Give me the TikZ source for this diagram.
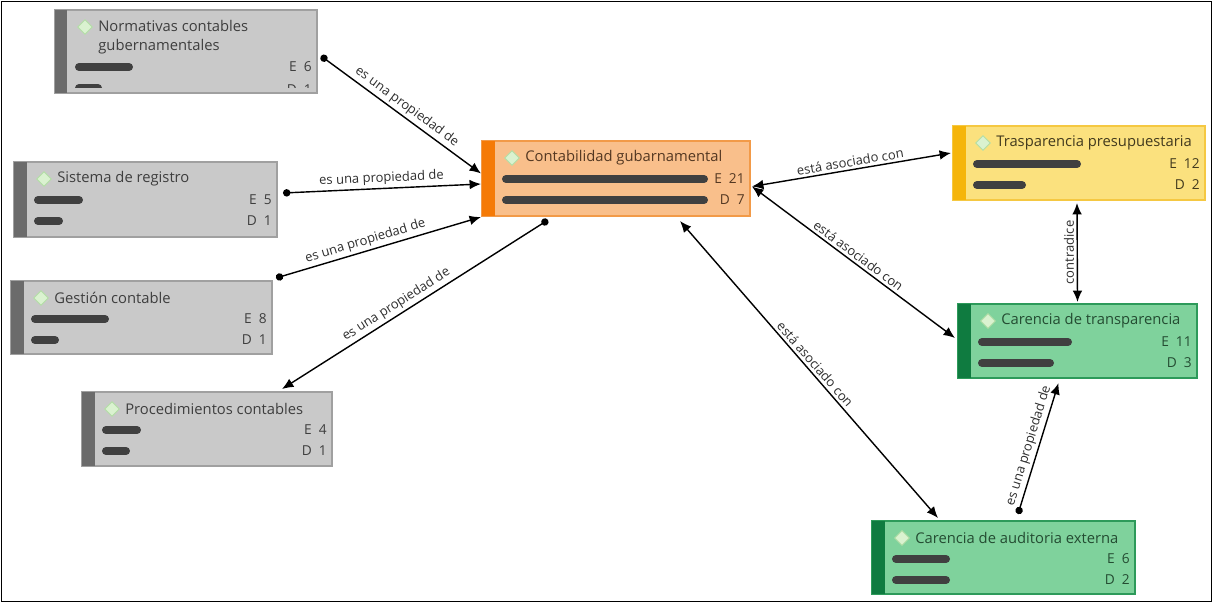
\documentclass[tikz,border=0pt]{standalone}
\usepackage{fontspec}
\setmainfont{Open Sans}
\usepackage{xcolor}
\usetikzlibrary{calc,arrows.meta,shapes.geometric}

\definecolor{barra}{HTML}{404040}
\definecolor{etiqueta}{HTML}{2E2E2E}

\begin{document}
\begin{tikzpicture}[x=0.02cm, y=-0.02cm,
    box/.style={draw, line width=0.8pt, inner sep=0pt, outer sep=0pt},
    gris/.style={fill={rgb,255:red,201;green,201;blue,201}, draw={rgb,255:red,160;green,160;blue,160}},
    gris stripe/.style={fill={rgb,255:red,107;green,107;blue,107}},
    gris texto/.style={text={rgb,255:red,62;green,62;blue,62}},
    naranja/.style={fill={rgb,255:red,249;green,191;blue,139}, draw={rgb,255:red,242;green,154;blue,72}},
    naranja stripe/.style={fill={rgb,255:red,245;green,122;blue,6}},
    naranja texto/.style={text={rgb,255:red,84;green,56;blue,34}},
    amarillo/.style={fill={rgb,255:red,251;green,225;blue,126}, draw={rgb,255:red,245;green,200;blue,66}},
    amarillo stripe/.style={fill={rgb,255:red,245;green,181;blue,10}},
    amarillo texto/.style={text={rgb,255:red,66;green,58;blue,30}},
    verde/.style={fill={rgb,255:red,127;green,210;blue,156}, draw={rgb,255:red,45;green,154;blue,90}},
    verde stripe/.style={fill={rgb,255:red,15;green,123;blue,64}},
    verde texto/.style={text={rgb,255:red,36;green,76;blue,50}},
    ico/.style={diamond, minimum size=0.3cm, inner sep=0pt, line width=0.5pt,
        fill={rgb,255:red,218;green,242;blue,208}, draw={rgb,255:red,178;green,222;blue,165}},
    titulo/.style={font=\fontsize{8.4}{10.8}\selectfont, inner sep=0pt},
    cuenta/.style={font=\fontsize{7.8}{9}\selectfont, inner sep=0pt},
    barra/.style={line width=0.16cm, line cap=round, draw=barra},
    lbl/.style={font=\fontsize{7.4}{8}\selectfont, text=etiqueta, inner sep=1.5pt},
    prop/.style={{Circle[length=4.2pt]}-{Latex[length=6.5pt,width=5.5pt]}, line width=0.8pt},
    asoc/.style={{Latex[length=6.5pt,width=5.5pt]}-{Latex[length=6.5pt,width=5.5pt]}, line width=0.8pt}]

    \useasboundingbox (0,0) rectangle (1213,603);
    \draw[line width=1.1pt] (1.5,1.5) rectangle (1211.5,601.5);

    % caja con titulo de dos lineas (recortada abajo)
    \node[box, gris, minimum width=262*0.02cm, minimum height=83*0.02cm, anchor=north west] (norm) at (55,10) {};
    \fill[gris stripe] (norm.north west) rectangle ($(norm.south west)+(12,0)$);
    \node[ico] at ($(norm.north west)+(30,17)$) {};
    \node[titulo, gris texto, anchor=west, align=left] at ($(norm.north west)+(43,27)$) {Normativas contables\\gubernamentales};
    \draw[barra] ($(norm.north west)+(24,57)$) -- ++(50,0);
    \node[cuenta, gris texto, anchor=east] at ($(norm.north east)+(-5,57)$) {E\hspace{4pt}6};
    \begin{scope}
        \clip ($(norm.north west)+(13,0)$) rectangle ($(norm.north east)+(-1,77)$);
        \draw[barra] ($(norm.north west)+(24,78)$) -- ++(19,0);
        \node[cuenta, gris texto, anchor=east] at ($(norm.north east)+(-5,80)$) {D\hspace{4pt}1};
    \end{scope}

    % cajas normales
    \foreach \n/\x/\y/\w/\h/\s/\t/\la/\lb/\ve/\vd in {
        sist/14/162/263/75/gris/Sistema de registro/49/29/5/1,
        gest/11/281/261/73/gris/Gestión contable/78/28/8/1,
        proc/82/392/250/74/gris/Procedimientos contables/39/28/4/1,
        cont/482/141/268/75/naranja/Contabilidad gubarnamental/206/206/21/7,
        trasp/953/126/252/74/amarillo/Trasparencia presupuestaria/108/53/12/2,
        cartr/958/304/239/74/verde/Carencia de transparencia/94/76/11/3,
        caraud/872/521/263/73/verde/Carencia de auditoria externa/58/58/6/2} {
        \node[box, \s, minimum width=\w*0.02cm, minimum height=\h*0.02cm, anchor=north west] (\n) at (\x,\y) {};
        \fill[\s\space stripe] (\n.north west) rectangle ($(\n.south west)+(13,0)$);
        \node[ico] at ($(\n.north west)+(30,17)$) {};
        \node[titulo, \s\space texto, anchor=west] at ($(\n.north west)+(43,17)$) {\t};
        \draw[barra] ($(\n.north west)+(24,38)$) -- ++(\la-8,0);
        \draw[barra] ($(\n.north west)+(24,59)$) -- ++(\lb-8,0);
        \node[cuenta, \s\space texto, anchor=east] at ($(\n.north east)+(-5,38)$) {E\hspace{4pt}\ve};
        \node[cuenta, \s\space texto, anchor=east] at ($(\n.north east)+(-5,59)$) {D\hspace{4pt}\vd};
    }

    % relaciones
    \draw[prop] ($(norm.north east)+(4,46)$) -- ($(cont.west)+(-1,-5)$) node[lbl, midway, above, sloped] {es una propiedad de};
    \draw[prop] ($(sist.east)+(6,-6.5)$) -- ($(cont.west)+(-1,5.5)$) node[lbl, midway, above, sloped] {es una propiedad de};
    \draw[prop] ($(gest.north east)+(4,-3)$) -- ($(cont.south west)+(-1,1)$) node[lbl, pos=0.45, above, sloped] {es una propiedad de};
    \draw[prop] ($(cont.south west)+(66,4)$) -- ($(proc.north east)+(-50,-3)$) node[lbl, pos=0.55, above, sloped] {es una propiedad de};
    \draw[asoc] ($(cont.east)+(2,8)$) -- ($(trasp.west)+(-2,-10)$) node[lbl, midway, above, sloped] {está asociado con};
    \draw[asoc] ($(cont.east)+(2,8)$) -- ($(cartr.west)+(-3,-3)$) node[lbl, midway, above, sloped] {está asociado con};
    \draw[asoc] ($(cont.south)+(64,5)$) -- ($(caraud.north west)+(66,-3)$) node[lbl, midway, above, sloped] {está asociado con};
    \draw[asoc] ($(trasp.south)+(-2,3)$) -- ($(cartr.north)+(0,-2)$) node[lbl, midway, rotate=90, anchor=south] {contradice};
    \draw[prop] ($(caraud.north)+(14.5,-7)$) -- ($(cartr.south)+(-19,5)$) node[lbl, midway, above, sloped] {es una propiedad de};
\end{tikzpicture}
\end{document}
